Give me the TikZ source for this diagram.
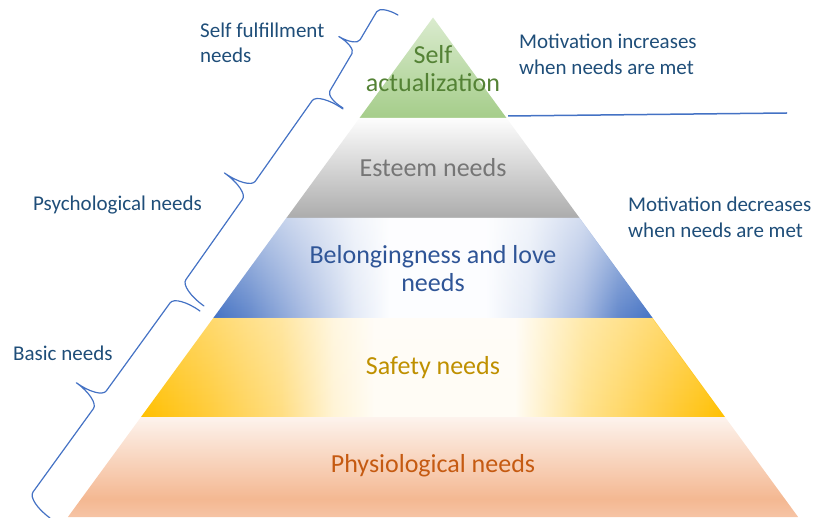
\documentclass[tikz,border=0pt]{standalone}
\usepackage{fontspec}
\setmainfont{Carlito}
\usetikzlibrary{fadings}

% colours
\definecolor{sidetext}{RGB}{31,78,121}
\definecolor{bracecol}{RGB}{68,114,196}
\definecolor{greentext}{RGB}{84,130,53}
\definecolor{greytext}{RGB}{118,118,118}
\definecolor{bluetext}{RGB}{47,85,151}
\definecolor{goldtext}{RGB}{191,144,0}
\definecolor{orangetext}{RGB}{197,90,17}

% band fills (TikZ fits the path onto the 25bp--75bp part of a shading)
\pgfdeclareverticalshading{greenband}{100bp}{%
  color(0bp)=(rgb,255:red,165;green,205;blue,138);
  color(25bp)=(rgb,255:red,165;green,205;blue,138);
  color(75bp)=(rgb,255:red,218;green,235;blue,206);
  color(100bp)=(rgb,255:red,218;green,235;blue,206)}
\pgfdeclareverticalshading{greyband}{100bp}{%
  color(0bp)=(rgb,255:red,172;green,172;blue,172);
  color(25bp)=(rgb,255:red,172;green,172;blue,172);
  color(52bp)=(rgb,255:red,216;green,216;blue,216);
  color(75bp)=(rgb,255:red,253;green,253;blue,253);
  color(100bp)=(rgb,255:red,253;green,253;blue,253)}
\pgfdeclarehorizontalshading{blueband}{100bp}{%
  color(0bp)=(rgb,255:red,68;green,114;blue,196);
  color(25bp)=(rgb,255:red,68;green,114;blue,196);
  color(29bp)=(rgb,255:red,100;green,137;blue,204);
  color(35bp)=(rgb,255:red,165;green,185;blue,225);
  color(41bp)=(rgb,255:red,226;green,233;blue,246);
  color(45bp)=(rgb,255:red,252;green,253;blue,255);
  color(56bp)=(rgb,255:red,252;green,253;blue,255);
  color(61bp)=(rgb,255:red,226;green,233;blue,246);
  color(67bp)=(rgb,255:red,165;green,185;blue,225);
  color(71bp)=(rgb,255:red,100;green,137;blue,204);
  color(75bp)=(rgb,255:red,68;green,114;blue,196);
  color(100bp)=(rgb,255:red,68;green,114;blue,196)}
\pgfdeclarehorizontalshading{goldband}{100bp}{%
  color(0bp)=(rgb,255:red,255;green,192;blue,0);
  color(25bp)=(rgb,255:red,255;green,192;blue,0);
  color(30bp)=(rgb,255:red,255;green,202;blue,50);
  color(37bp)=(rgb,255:red,255;green,222;blue,130);
  color(41.5bp)=(rgb,255:red,255;green,244;blue,214);
  color(45bp)=(rgb,255:red,255;green,252;blue,245);
  color(57bp)=(rgb,255:red,255;green,252;blue,245);
  color(63bp)=(rgb,255:red,255;green,226;blue,140);
  color(70bp)=(rgb,255:red,255;green,204;blue,60);
  color(75bp)=(rgb,255:red,255;green,192;blue,0);
  color(100bp)=(rgb,255:red,255;green,192;blue,0)}
\pgfdeclareverticalshading{peachband}{100bp}{%
  color(0bp)=(rgb,255:red,246;green,196;blue,165);
  color(25bp)=(rgb,255:red,246;green,196;blue,165);
  color(34bp)=(rgb,255:red,244;green,184;blue,146);
  color(75bp)=(rgb,255:red,253;green,243;blue,237);
  color(100bp)=(rgb,255:red,253;green,243;blue,237)}

% white wash that lightens the upper part of a tier
\tikzfading[name=topwash, top color=transparent!50, bottom color=transparent!100]

% a rotated curly brace: #1 start point, #2 angle, #3 length,
% #4 tip position, #5 half height, #6 curl length
\newcommand{\needbrace}[6]{%
  \begin{scope}[shift={(#1)}, rotate=#2]
    \draw[bracestyle] (0,0)
      .. controls (0,{0.55*#5}) and ({0.45*#6},#5) .. (#6,#5)
      -- ({#4-#6},#5)
      .. controls ({#4-0.45*#6},#5) and (#4,{1.45*#5}) .. (#4,{2*#5})
      .. controls (#4,{1.45*#5}) and ({#4+0.45*#6},#5) .. ({#4+#6},#5)
      -- ({#3-#6},#5)
      .. controls ({#3-0.45*#6},#5) and (#3,{0.55*#5}) .. (#3,0);
  \end{scope}}

\begin{document}
\begin{tikzpicture}[x=1pt, y=1pt,
  bracestyle/.style={draw=bracecol, line width=1.2pt, line cap=round, line join=round},
  sidelabel/.style={text=sidetext, inner sep=0pt, align=left,
    font=\fontsize{21}{25.5}\selectfont},
  tierlabel/.style={inner sep=0pt, align=center,
    font=\fontsize{26}{28}\selectfont}]
\useasboundingbox (0,0) rectangle (818,517);

% pyramid tiers
\shade[shading=greenband] (433,499.5) -- (506.5,399) -- (359.5,399) -- cycle;
\shade[shading=greyband]  (359.5,399) -- (506.5,399) -- (579.6,299) -- (286.4,299) -- cycle;
\shade[shading=blueband]  (286.4,299) -- (579.6,299) -- (652.7,199) -- (213.3,199) -- cycle;
\fill[white, path fading=topwash] (286.4,299) -- (579.6,299) -- (652.7,199) -- (213.3,199) -- cycle;
\shade[shading=goldband]  (213.3,199) -- (652.7,199) -- (725,100) -- (141,100) -- cycle;
\fill[white, path fading=topwash, fill opacity=0.5] (213.3,199) -- (652.7,199) -- (725,100) -- (141,100) -- cycle;
\shade[shading=peachband] (141,100) -- (725,100) -- (798.1,0) -- (67.9,0) -- cycle;

% tier labels
\node[tierlabel, text=greentext]  (selfact)  at (433,448) {Self\\actualization};
\node[tierlabel, text=greytext]   (esteem)   at (433,349) {Esteem needs};
\node[tierlabel, text=bluetext]   (belong)   at (433,248) {Belongingness and love\\needs};
\node[tierlabel, text=goldtext]   (safety)   at (433,149) {Safety needs};
\node[tierlabel, text=orangetext] (physio)   at (433,51)  {Physiological needs};

% group labels on the left
\node[sidelabel, anchor=west] (fulfil) at (200,474) {Self fulfillment\\needs};
\node[sidelabel, anchor=west] (psych)  at (33,312)  {Psychological needs};
\node[sidelabel, anchor=west] (basic)  at (13,164)  {Basic needs};

% motivation notes on the right
\node[sidelabel, anchor=west] (motup)   at (519,462.5) {Motivation increases\\when needs are met};
\node[sidelabel, anchor=west] (motdown) at (628,299.5) {Motivation decreases\\when needs are met};

% divider between growth and deficiency needs
\coordinate (divL) at (508,401);
\coordinate (divR) at (787,404);
\draw[draw=bracecol, line width=1.5pt] (divL) -- (divR);

% braces along the left flank
\coordinate (b1lo) at (343,409);
\coordinate (b2lo) at (204,211);
\coordinate (b3lo) at (50,-1);
\needbrace{b1lo}{59.4}{108}{59.4}{20}{8}
\needbrace{b2lo}{54.8}{241.1}{120.5}{30}{11}
\needbrace{b3lo}{54.07}{255.6}{125}{29}{11}
\end{tikzpicture}
\end{document}
